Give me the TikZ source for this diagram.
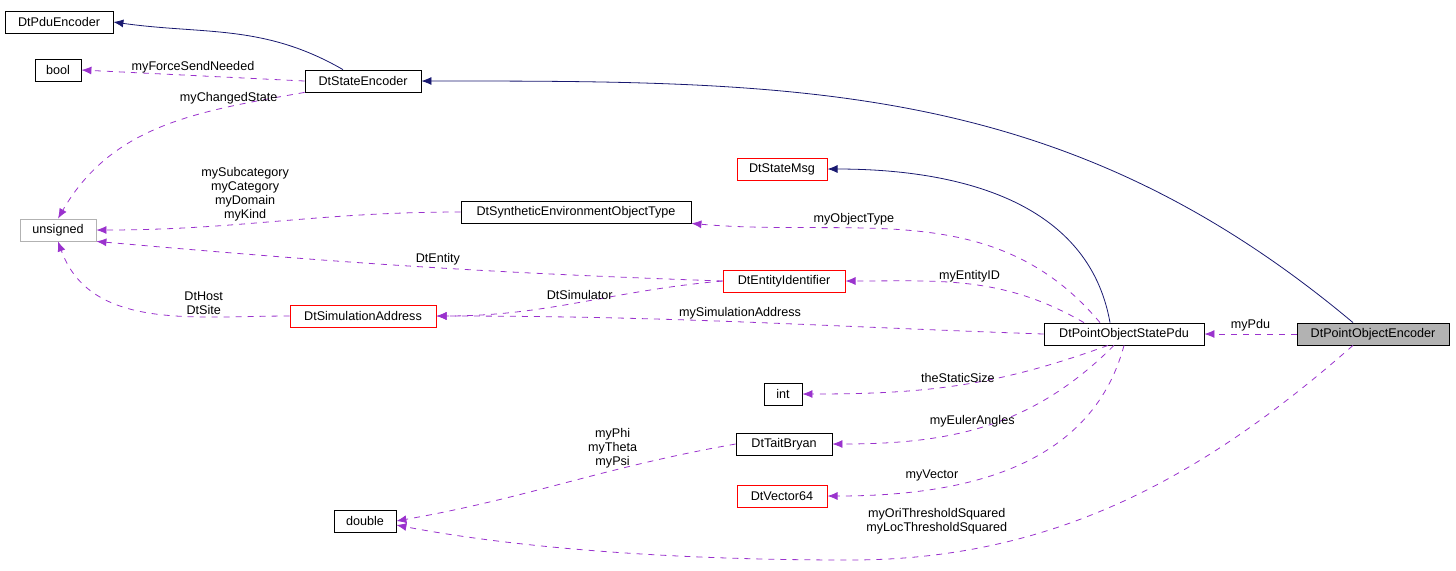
\documentclass[tikz,border=0pt]{standalone}
\usepackage{fontspec}
\setmainfont{Liberation Sans}
\usetikzlibrary{arrows.meta, positioning}

\definecolor{navyedge}{RGB}{25,25,112}
\definecolor{purpleedge}{RGB}{154,50,205}

\tikzset{
  cls/.style={rectangle, draw=black, fill=white, inner sep=1pt, minimum height=11pt, font=\fontsize{6.3}{7}\selectfont},
  red cls/.style={cls, draw=red, line width=0.5pt},
  gray cls/.style={cls, draw=gray!60},
  inherit/.style={draw=navyedge, -{Latex[length=5pt,width=4pt]}},
  uses/.style={draw=purpleedge, dashed, -{Latex[length=5pt,width=4pt]}},
  lbl/.style={font=\fontsize{6.3}{7}\selectfont, align=center, inner sep=1pt}
}

\begin{document}
\begin{tikzpicture}[x=0.5pt, y=-0.5pt]
    \useasboundingbox (0,0) rectangle (1456,570);

    % classes
    \node[cls, minimum width=54pt] (pduenc) at (59,22) {DtPduEncoder};
    \node[cls, minimum width=23pt] (bool) at (58,70) {bool};
    \node[cls, minimum width=58pt] (stateenc) at (363,81) {DtStateEncoder};
    \node[gray cls, minimum width=38pt] (unsigned) at (58,230) {unsigned};
    \node[red cls, minimum width=45pt] (statemsg) at (782,169) {DtStateMsg};
    \node[cls, minimum width=115pt] (synth) at (576,212) {DtSyntheticEnvironmentObjectType};
    \node[red cls, minimum width=61pt] (entid) at (784,281) {DtEntityIdentifier};
    \node[red cls, minimum width=73pt] (simaddr) at (363,316) {DtSimulationAddress};
    \node[cls, minimum width=80pt] (pdu) at (1124,334) {DtPointObjectStatePdu};
    \node[cls, minimum width=76pt, fill=gray!60] (encoder) at (1373,334) {DtPointObjectEncoder};
    \node[cls, minimum width=19pt] (int) at (783,394) {int};
    \node[cls, minimum width=48pt] (tait) at (784,444) {DtTaitBryan};
    \node[red cls, minimum width=45pt] (vec) at (782,496) {DtVector64};
    \node[cls, minimum width=31pt] (double) at (365,521) {double};

    % inheritance
    \draw[inherit] ([xshift=-10pt]stateenc.north) to[out=150, in=-8] (pduenc.east);
    \draw[inherit] ([xshift=-10pt]encoder.north) to[out=140, in=0] (stateenc.east);
    \draw[inherit] ([xshift=-7pt]pdu.north) to[out=100, in=0] (statemsg.east);

    % members
    \draw[uses] (encoder.west) -- node[lbl, above] {myPdu} (pdu.east);
    \draw[uses] (stateenc.west) -- node[lbl, above] {myForceSendNeeded} (bool.east);
    \draw[uses] (stateenc.south west) to[out=190, in=60] node[lbl, pos=0.25, above] {myChangedState} (unsigned.north);
    \draw[uses] (synth.west) to[out=180, in=0] node[lbl, pos=0.6, above] {mySubcategory\\myCategory\\myDomain\\myKind} (unsigned.east);
    \draw[uses] (entid.west) to[out=178, in=-5] node[lbl, pos=0.45, above] {DtEntity} (unsigned.south east);
    \draw[uses] (simaddr.west) to[out=180, in=-70] node[lbl, pos=0.3, above] {DtHost\\DtSite} (unsigned.south);
    \draw[uses] (entid.west) to[out=185, in=0] node[lbl, above] {DtSimulator} (simaddr.east);
    \draw[uses] (pdu.west) to[out=178, in=0] node[lbl, pos=0.5, above] {mySimulationAddress} (simaddr.east);
    \draw[uses] ([xshift=-20pt]pdu.north) to[out=150, in=0] node[lbl, pos=0.5, above] {myEntityID} (entid.east);
    \draw[uses] ([xshift=-12pt]pdu.north) to[out=130, in=-5] node[lbl, pos=0.65, above] {myObjectType} (synth.south east);
    \draw[uses] ([xshift=-8pt]pdu.south) to[out=200, in=0] node[lbl, pos=0.5, above] {theStaticSize} (int.east);
    \draw[uses] ([xshift=-5pt]pdu.south) to[out=225, in=0] node[lbl, pos=0.55, above] {myEulerAngles} (tait.east);
    \draw[uses] (pdu.south) to[out=255, in=0] node[lbl, pos=0.65, above left] {myVector} (vec.east);
    \draw[uses] (tait.west) to[out=190, in=10] node[lbl, pos=0.35, above] {myPhi\\myTheta\\myPsi} (double.east);
    \draw[uses] ([xshift=-10pt]encoder.south) .. controls (1200,480) and (1050,560) .. node[lbl, pos=0.85, above=9pt] {myOriThresholdSquared\\myLocThresholdSquared} (850,560) .. controls (650,560) and (500,545) .. ([yshift=-2pt]double.east);
\end{tikzpicture}
\end{document}
